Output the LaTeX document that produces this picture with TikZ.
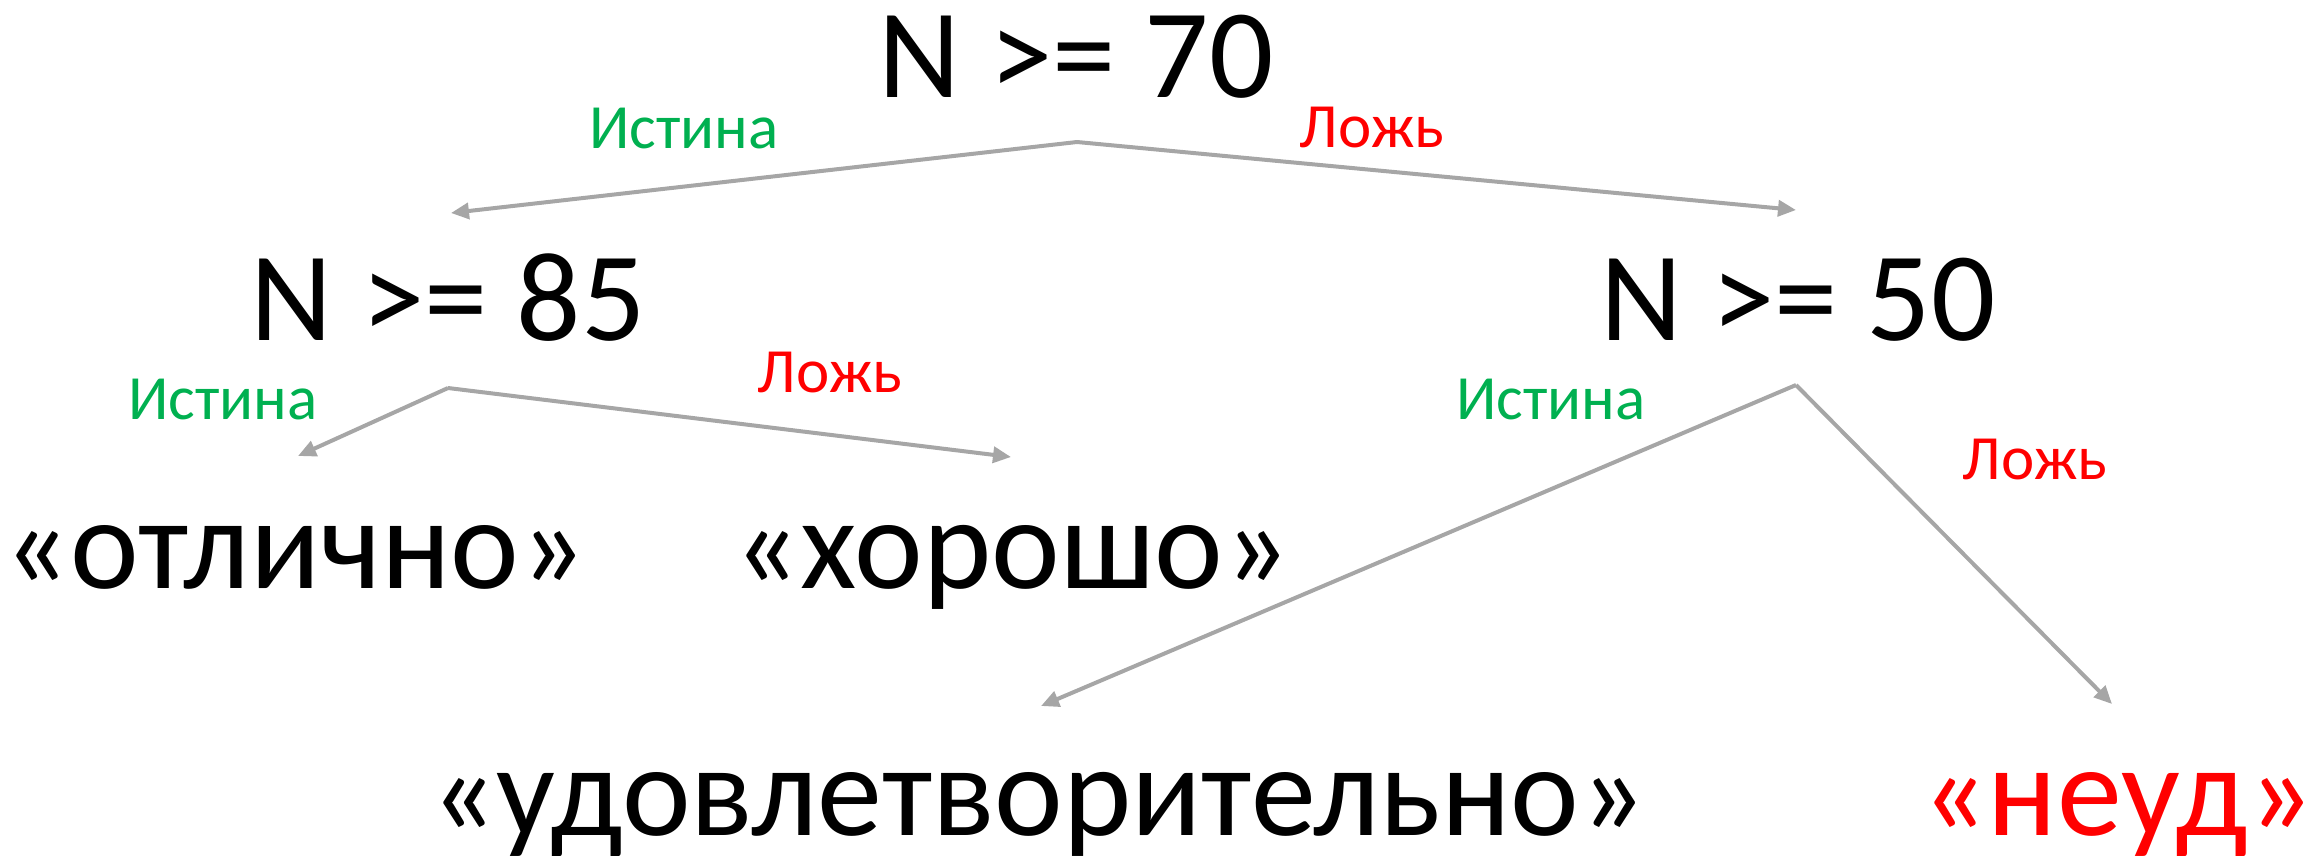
\documentclass[tikz,border=0pt]{standalone}
\usepackage{fontspec}
\setmainfont{Carlito}
\usetikzlibrary{arrows.meta}
\definecolor{tgreen}{HTML}{00B050}
\definecolor{tred}{HTML}{FF0000}
\definecolor{agray}{HTML}{A6A6A6}
\tikzset{
  cond/.style={anchor=base,inner sep=0pt,font=\fontsize{127}{130}\selectfont},
  res/.style={anchor=base,inner sep=0pt,font=\fontsize{130}{134}\selectfont},
  yes/.style={anchor=base,inner sep=0pt,text=tgreen,font=\fontsize{63}{65}\selectfont},
  no/.style={anchor=base,inner sep=0pt,text=tred,font=\fontsize{63}{65}\selectfont},
  conn/.style={draw=agray,line width=4pt,-{Triangle[length=18pt,width=16pt]}}
}
\begin{document}
\begin{tikzpicture}[x=1pt,y=-1pt]
\useasboundingbox (0,0) rectangle (2305,855);
% conditions
\node[cond] (c70) at (1076,97) {N >= 70};
\node[cond] (c85) at (448,340) {N >= 85};
\node[cond] (c50) at (1798,340) {N >= 50};
% labels
\node[yes] (y1) at (684,148) {Истина};
\node[no]  (n1) at (1372,147) {Ложь};
\node[yes] (y2) at (223,419) {Истина};
\node[no]  (n2) at (830,392) {Ложь};
\node[yes] (y3) at (1551,419) {Истина};
\node[no]  (n3) at (2035,479) {Ложь};
% results
\node[res] (r1) at (295,588) {«отлично»};
\node[res] (r2) at (1012,588) {«хорошо»};
\node[res] (r3) at (1038,835) {«удовлетворительно»};
\node[res,anchor=base west,text=tred] (r4) at (1921,835) {«неуд»};
% connector points
\coordinate (p70) at (1077,142);
\coordinate (p85) at (448,388);
\coordinate (p50) at (1796,385);
\coordinate (t70l) at (451,213);
\coordinate (t70r) at (1796,210);
\coordinate (t85l) at (298,456);
\coordinate (t85r) at (1011,457);
\coordinate (t50l) at (1041,706);
\coordinate (t50r) at (2112,704);
% connectors
\draw[conn] (p70) -- (t70l);
\draw[conn] (p70) -- (t70r);
\draw[conn] (p85) -- (t85l);
\draw[conn] (p85) -- (t85r);
\draw[conn] (p50) -- (t50l);
\draw[conn] (p50) -- (t50r);
\end{tikzpicture}
\end{document}
